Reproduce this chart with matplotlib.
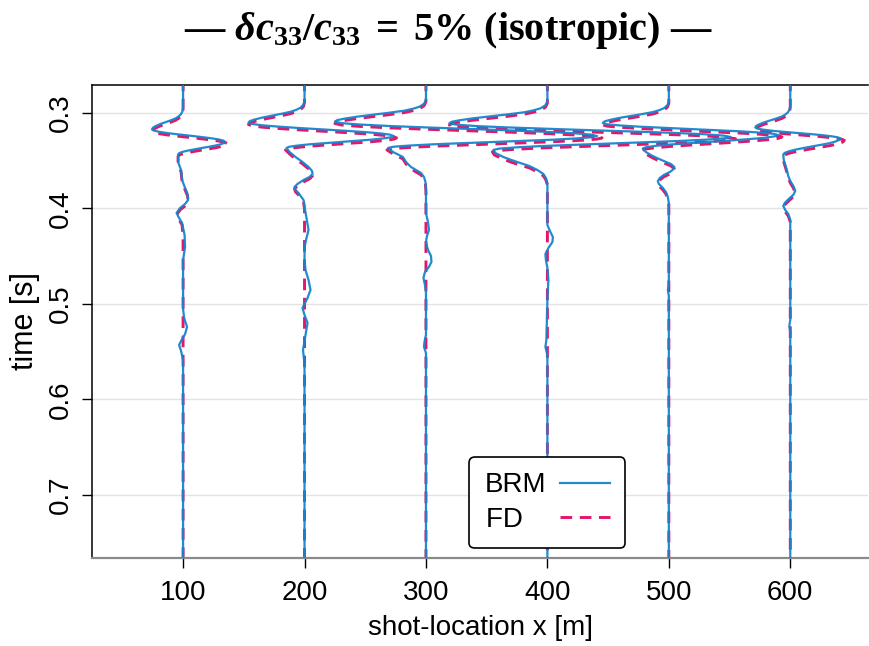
import numpy as np
import matplotlib
matplotlib.use("Agg")
import matplotlib.pyplot as plt

# ---------------------------------------------------------------------------
# Wiggle traces: time samples [ms] and trace amplitude for each shot location
# ---------------------------------------------------------------------------
shots = [100, 200, 300, 400, 500, 600]

t_brm_100 = [265, 294.1, 298.3, 301.4, 303.5, 305.6, 307.7, 309.8, 311.9, 314.0, 315.5, 317.1,
             318.4, 319.7, 321.0, 322.3, 323.6, 325.0, 326.3, 327.6, 328.9, 330.2,
             331.5, 332.8, 334.1, 335.4, 336.7, 338.1, 339.4, 340.7, 342.0, 343.3,
             351.3, 359.7, 370.2, 378.5, 384.8, 391.1, 395.3, 399.5, 404.7, 410.0, 415.2,
             427.7, 440.3, 453.9, 505.0, 514.6, 524.1, 531.4, 537.7, 542.9, 549.2, 558.6, 770]
a_brm_100 = [0, 0, -0.6, -2.2, -4.3, -7.4, -12.4, -18.0, -23.6, -27.9, -30.2, -31,
             -29.2, -24.0, -16.0, -5.8, 5.5, 16.8, 27.0, 35.0, 40.2, 42,
             40.8, 37.5, 32.3, 25.8, 18.5, 11.2, 4.7, -0.5, -3.8, -5,
             -5, -2, -1, 2, 4.5, 5, 2, -3, -6.5, -4, -1,
             1.5, 2, 0, 0, 1, 4, 2, -1.5, -4, -2, 0, 0]
t_fd_100 = [265, 296.1, 300.3, 303.4, 305.5, 307.6, 309.7, 311.8, 313.9, 316.0, 317.5, 319.1,
            320.4, 321.7, 323.0, 324.3, 325.6, 327.0, 328.3, 329.6, 330.9, 332.2,
            333.5, 334.8, 336.1, 337.4, 338.7, 340.1, 341.4, 342.7, 344.0, 345.3,
            353.3, 361.7, 372.2, 380.5, 386.8, 393.1, 397.3, 401.5, 406.7, 412.0, 417.2, 430.0, 770]
a_fd_100 = [0, 0, -0.6, -2.2, -4.3, -7.4, -12.4, -18.0, -23.6, -27.9, -30.2, -31,
            -29.2, -23.8, -15.6, -5.1, 6.5, 18.1, 28.6, 36.8, 42.2, 44,
            42.8, 39.3, 33.9, 27.1, 19.5, 11.9, 5.1, -0.3, -3.8, -5,
            -5, -2, -1, 2, 4.5, 5, 2, -3, -6.5, -4, -1, 0, 0]

t_brm_200 = [265, 287.1, 291.3, 294.4, 296.5, 298.6, 300.7, 302.8, 304.9, 307.0, 308.5, 310.1,
             311.5, 312.9, 314.3, 315.7, 317.1, 318.5, 319.9, 321.3, 322.7, 324.1,
             325.4, 326.6, 327.9, 329.1, 330.4, 331.7, 332.9, 334.2, 335.4, 336.7,
             340.8, 346.1, 351.3, 356.5, 360.7, 363.9, 367.0, 370.2, 374.3, 377.5, 380.6, 383.8,
             391.1, 398.4, 410.0, 422.5, 430.9, 440.3, 453.9, 464.4, 474.9, 485.3, 493.7,
             504.2, 511.5, 519.9, 532.4, 548.1, 563.8, 770]
a_brm_200 = [0, 0, -1.1, -3.9, -7.8, -13.4, -22.4, -32.5, -42.6, -50.4, -54.6, -56,
             -52.4, -42.2, -26.1, -5.9, 16.5, 38.9, 59.1, 75.2, 85.4, 89,
             86.4, 78.8, 67.0, 52.0, 35.5, 19.0, 4.0, -7.8, -15.4, -18,
             -15, -9, -2, 4, 7.5, 8, 5, -1, -7, -10, -9, -6,
             -1, 0, 2, 4, 2, 0, 0, 1, 4, 6, 3,
             -2, 0, 3, 1, -1.5, 0, 0]
t_fd_200 = [265, 289.1, 293.3, 296.4, 298.5, 300.6, 302.7, 304.8, 306.9, 309.0, 310.5, 312.1,
            313.5, 314.9, 316.3, 317.7, 319.1, 320.5, 321.9, 323.3, 324.7, 326.1,
            327.4, 328.6, 329.9, 331.1, 332.4, 333.7, 334.9, 336.2, 337.4, 338.7,
            342.8, 348.1, 353.3, 358.5, 362.7, 365.9, 369.0, 372.2, 376.3, 379.5, 382.6, 385.8,
            393.1, 400.4, 770]
a_fd_200 = [0, 0, -1.1, -3.9, -7.8, -13.4, -22.4, -32.5, -42.6, -50.4, -54.6, -56,
            -52.4, -41.9, -25.5, -4.9, 18, 40.9, 61.5, 77.9, 88.4, 92,
            89.3, 81.4, 69.1, 53.6, 36.5, 19.4, 3.9, -8.4, -16.3, -19,
            -15, -9, -2, 4, 7.5, 8, 5, -1, -7, -10, -9, -6,
            -1, 0, 0]

t_brm_300 = [265, 286.1, 290.3, 293.4, 295.5, 297.6, 299.7, 301.8, 303.9, 306.0, 307.5, 309.1,
             310.6, 312.1, 313.6, 315.1, 316.6, 318.1, 319.6, 321.1, 322.6, 324.1,
             325.4, 326.6, 327.9, 329.1, 330.4, 331.7, 332.9, 334.2, 335.4, 336.7,
             340.8, 346.1, 351.3, 356.5, 359.7, 362.8, 367.0, 372.2, 380.6, 404.7, 414.1,
             422.5, 428.8, 435.1, 443.4, 449.7, 456.0, 461.2, 466.5, 472.8, 480.1, 487.4,
             532.4, 539.8, 545.0, 551.3, 770]
a_brm_300 = [0, 0, -1.8, -6.4, -12.7, -21.8, -36.4, -52.8, -69.2, -81.9, -88.7, -91,
             -84.6, -66.0, -37.0, -0.5, 40, 80.5, 117.0, 146.0, 164.6, 171,
             165.9, 151.0, 127.9, 98.8, 66.5, 34.2, 5.1, -18.0, -32.9, -38,
             -33, -23, -20, -15, -10, -5, -2, -0.5, 0, 0, 2,
             3, 1, 0, 2, 5, 5.5, 3, -1, -2.5, -1, 0,
             0, -1.5, -2, 0, 0]
t_fd_300 = [265, 288.1, 292.3, 295.4, 297.5, 299.6, 301.7, 303.8, 305.9, 308.0, 309.5, 311.1,
            312.6, 314.1, 315.6, 317.1, 318.6, 320.1, 321.6, 323.1, 324.6, 326.1,
            327.4, 328.6, 329.9, 331.1, 332.4, 333.7, 334.9, 336.2, 337.4, 338.7,
            342.8, 348.1, 353.3, 358.5, 361.7, 364.8, 369.0, 374.2, 382.6, 770]
a_fd_300 = [0, 0, -1.8, -6.4, -12.7, -21.8, -36.4, -52.8, -69.2, -81.9, -88.7, -91,
            -84.5, -65.5, -36.0, 1.2, 42.5, 83.8, 121.0, 150.5, 169.5, 176,
            170.7, 155.5, 131.7, 101.7, 68.5, 35.3, 5.3, -18.5, -33.7, -39,
            -33, -23, -20, -15, -10, -5, -2, -0.5, 0, 0]

t_brm_400 = [265, 287.8, 292.0, 295.1, 297.2, 299.3, 301.4, 303.5, 305.6, 307.7, 309.2, 310.8,
             312.2, 313.7, 315.1, 316.5, 318.0, 319.4, 320.8, 322.2, 323.7, 325.1,
             326.5, 327.8, 329.2, 330.5, 331.9, 333.3, 334.6, 336.0, 337.3, 338.7,
             341.9, 346.1, 349.2, 352.4, 355.5, 359.7, 363.9, 368.1, 373.3, 417.3, 424.6,
             429.9, 435.1, 441.4, 447.7, 454.0, 462.3, 474.9, 495.8, 537.7, 545.0, 553.4, 770]
a_brm_400 = [0, 0, -2.0, -6.9, -13.7, -23.5, -39.2, -56.8, -74.5, -88.2, -95.6, -98,
             -91.1, -71.2, -40.1, -0.9, 42.5, 85.9, 125.1, 156.2, 176.1, 183,
             177.2, 160.4, 134.2, 101.1, 64.5, 27.9, -5.2, -31.4, -48.2, -54,
             -52, -44, -36, -27, -18, -10, -4, -1.5, 0, 0, 3,
             5.5, 5, 1, -2, -1.5, 0, 1, 0, -1, -2, 0, 0]
t_fd_400 = [265, 289.8, 294.0, 297.1, 299.2, 301.3, 303.4, 305.5, 307.6, 309.7, 311.2, 312.8,
            314.2, 315.7, 317.1, 318.5, 320.0, 321.4, 322.8, 324.2, 325.7, 327.1,
            328.5, 329.8, 331.2, 332.5, 333.9, 335.3, 336.6, 338.0, 339.3, 340.7,
            343.9, 348.1, 351.2, 354.4, 357.5, 361.7, 365.9, 370.1, 375.3, 770]
a_fd_400 = [0, 0, -2.0, -6.9, -13.7, -23.5, -39.2, -56.8, -74.5, -88.2, -95.6, -98,
            -91.0, -70.7, -39.1, 0.8, 45, 89.2, 129.1, 160.7, 181.0, 188,
            182.0, 164.8, 137.9, 104.0, 66.5, 29.0, -4.9, -31.8, -49.0, -55,
            -53, -45, -37, -28, -18, -10, -4, -1.5, 0, 0]

t_brm_500 = [265, 287.5, 291.7, 294.8, 296.9, 299.0, 301.1, 303.2, 305.3, 307.4, 308.9, 310.5,
             311.8, 313.0, 314.3, 315.5, 316.8, 318.1, 319.3, 320.6, 321.8, 323.1,
             324.5, 325.9, 327.3, 328.7, 330.2, 331.6, 333.0, 334.4, 335.8, 337.2,
             340.8, 344.0, 347.1, 350.3, 353.4, 356.5, 358.6, 361.8, 364.9, 368.1, 371.2,
             374.3, 378.5, 382.7, 387.9, 394.2, 480.1, 485.3, 491.6, 770]
a_brm_500 = [0, 0, -1.3, -4.6, -9.2, -15.8, -26.4, -38.3, -50.2, -59.4, -64.4, -66,
             -61.7, -49.3, -30.0, -5.5, 21.5, 48.5, 73.0, 92.3, 104.7, 109,
             105.7, 96.1, 81.2, 62.4, 41.5, 20.6, 1.8, -13.1, -22.7, -26,
             -23, -18, -12, -5, 2, 5.5, 5, 1, -5, -9, -11,
             -10, -6, -3, -1, 0, 0, -1, 0, 0]
t_fd_500 = [265, 289.5, 293.7, 296.8, 298.9, 301.0, 303.1, 305.2, 307.3, 309.4, 310.9, 312.5,
            313.8, 315.0, 316.3, 317.5, 318.8, 320.1, 321.3, 322.6, 323.8, 325.1,
            326.5, 327.9, 329.3, 330.7, 332.2, 333.6, 335.0, 336.4, 337.8, 339.2,
            342.8, 346.0, 349.1, 352.3, 355.4, 358.5, 360.6, 363.8, 366.9, 370.1, 373.2,
            376.3, 380.5, 384.7, 389.9, 396.2, 770]
a_fd_500 = [0, 0, -1.3, -4.6, -9.2, -15.8, -26.4, -38.3, -50.2, -59.4, -64.4, -66,
            -61.6, -48.9, -29.1, -4.2, 23.5, 51.2, 76.1, 95.9, 108.6, 113,
            109.6, 99.6, 84.2, 64.6, 43, 21.4, 1.8, -13.6, -23.6, -27,
            -23, -18, -12, -5, 2, 5.5, 5, 1, -5, -9, -11,
            -10, -6, -3, -1, 0, 0]

t_brm_600 = [265, 292.2, 296.4, 299.5, 301.6, 303.7, 305.8, 307.9, 310.0, 312.1, 313.6, 315.2,
             316.4, 317.5, 318.7, 319.8, 321.0, 322.1, 323.3, 324.5, 325.6, 326.7,
             328.4, 330.1, 331.8, 333.4, 335.1, 336.8, 338.5, 340.2, 341.8, 343.5,
             349.2, 354.4, 359.7, 366.0, 371.2, 376.4, 381.6, 385.8, 390.0, 394.2, 397.4,
             401.6, 405.8, 412.0, 516.7, 523.0, 529.3, 770]
a_brm_600 = [0, 0, -0.7, -2.5, -4.9, -8.4, -14.0, -20.3, -26.6, -31.5, -34.1, -35,
             -32.9, -26.9, -17.5, -5.6, 7.5, 20.6, 32.5, 41.9, 47.9, 50,
             48.6, 44.6, 38.3, 30.3, 21.5, 12.7, 4.7, -1.6, -5.6, -7,
             -6.5, -5, -3.5, -2, 0, 3, 5, 3, -1.5, -5.5, -7,
             -5, -2, 0, 0, -1, 0, 0]
t_fd_600 = [265, 294.2, 298.4, 301.5, 303.6, 305.7, 307.8, 309.9, 312.0, 314.1, 315.6, 317.2,
            318.4, 319.5, 320.7, 321.8, 323.0, 324.1, 325.3, 326.5, 327.6, 328.7,
            330.4, 332.1, 333.8, 335.4, 337.1, 338.8, 340.5, 342.2, 343.8, 345.5,
            351.2, 356.4, 361.7, 368.0, 373.2, 378.4, 383.6, 387.8, 392.0, 396.2, 399.4,
            403.6, 407.8, 414.0, 770]
a_fd_600 = [0, 0, -0.7, -2.5, -4.9, -8.4, -14.0, -20.3, -26.6, -31.5, -34.1, -35,
            -32.8, -26.5, -16.7, -4.3, 9.5, 23.3, 35.7, 45.5, 51.8, 54,
            52.5, 48.2, 41.4, 32.9, 23.5, 14.1, 5.6, -1.2, -5.5, -7,
            -6.5, -5, -3.5, -2, 0, 3, 5, 3, -1.5, -5.5, -7,
            -5, -2, 0, 0]

brm_traces = [(t_brm_100, a_brm_100), (t_brm_200, a_brm_200), (t_brm_300, a_brm_300),
              (t_brm_400, a_brm_400), (t_brm_500, a_brm_500), (t_brm_600, a_brm_600)]
fd_traces = [(t_fd_100, a_fd_100), (t_fd_200, a_fd_200), (t_fd_300, a_fd_300),
             (t_fd_400, a_fd_400), (t_fd_500, a_fd_500), (t_fd_600, a_fd_600)]

x_ticks = [100, 200, 300, 400, 500, 600]
y_ticks = [0.3, 0.4, 0.5, 0.6, 0.7]
y_ticklabels = ["0.3", "0.4", "0.5", "0.6", "0.7"]

# ---------------------------------------------------------------------------
# Styling
# ---------------------------------------------------------------------------
GAIN = 0.824          # metres of horizontal excursion per amplitude unit
BRM_COLOR = "#1585cc"
FD_COLOR = "#e3166c"
FS = 20

plt.rcParams["font.family"] = ["Liberation Sans", "DejaVu Sans"]
plt.rcParams["mathtext.fontset"] = "custom"
plt.rcParams["mathtext.rm"] = "Liberation Serif:bold"
plt.rcParams["mathtext.it"] = "Liberation Serif:italic:bold"
plt.rcParams["mathtext.bf"] = "Liberation Serif:bold"

fig = plt.figure(figsize=(8.70, 6.46), dpi=100)
ax = fig.add_axes([92 / 870, 1 - 558 / 646, 776 / 870, 473 / 646])

for shot, (tb, ab), (tf, af) in zip(shots, brm_traces, fd_traces):
    ax.plot(shot + GAIN * np.asarray(af), np.asarray(tf) / 1000.0, color=FD_COLOR,
            lw=2.1, ls=(0, (4.0, 2.6)), zorder=2,
            label="FD" if shot == shots[0] else None)
    ax.plot(shot + GAIN * np.asarray(ab), np.asarray(tb) / 1000.0, color=BRM_COLOR,
            lw=1.6, zorder=3, alpha=0.95,
            label="BRM" if shot == shots[0] else None)

ax.set_xlim(25, 664)
ax.set_ylim(0.766, 0.2707)

ax.set_xticks(x_ticks)
ax.set_yticks(y_ticks)
ax.set_yticklabels(y_ticklabels, rotation=90, va="center")
ax.tick_params(axis="both", labelsize=FS, length=7, width=1.0, direction="out")
ax.tick_params(axis="x", pad=9)
ax.tick_params(axis="y", pad=6)

ax.grid(axis="y", color="#e3e3e3", lw=1.0, zorder=0)
ax.set_axisbelow(True)

for side in ("left", "top"):
    ax.spines[side].set_color("black")
    ax.spines[side].set_linewidth(1.1)
ax.spines["right"].set_visible(False)
ax.spines["bottom"].set_color("#8a8a8a")
ax.spines["bottom"].set_linewidth(1.6)

ax.set_xlabel("shot-location x [m]", fontsize=FS, labelpad=6)
ax.set_ylabel("time [s]", fontsize=22, labelpad=6)

handles, labels = ax.get_legend_handles_labels()
order = [labels.index("BRM"), labels.index("FD")]
# trailing spaces keep both entry texts the same width so they sit flush left
entry_text = {"BRM": "BRM", "FD": "FD   "}
leg = ax.legend([handles[i] for i in order], [entry_text[labels[i]] for i in order],
                loc="lower left", bbox_to_anchor=(0.486, 0.021), borderaxespad=0,
                markerfirst=False, fontsize=FS, frameon=True, fancybox=True,
                framealpha=1, edgecolor="black", handlelength=1.8,
                handletextpad=0.5, borderpad=0.55, labelspacing=0.3)
leg.get_frame().set_linewidth(1.2)
leg.set_zorder(10)

fig.text(0.515, 0.953, r"— $\delta c_{33}/c_{33}\;=\;5\%$ (isotropic) —",
         ha="center", va="center", fontsize=29, fontweight="bold",
         family=["Liberation Serif", "DejaVu Serif"])

fig.savefig("out.png", dpi=100)
